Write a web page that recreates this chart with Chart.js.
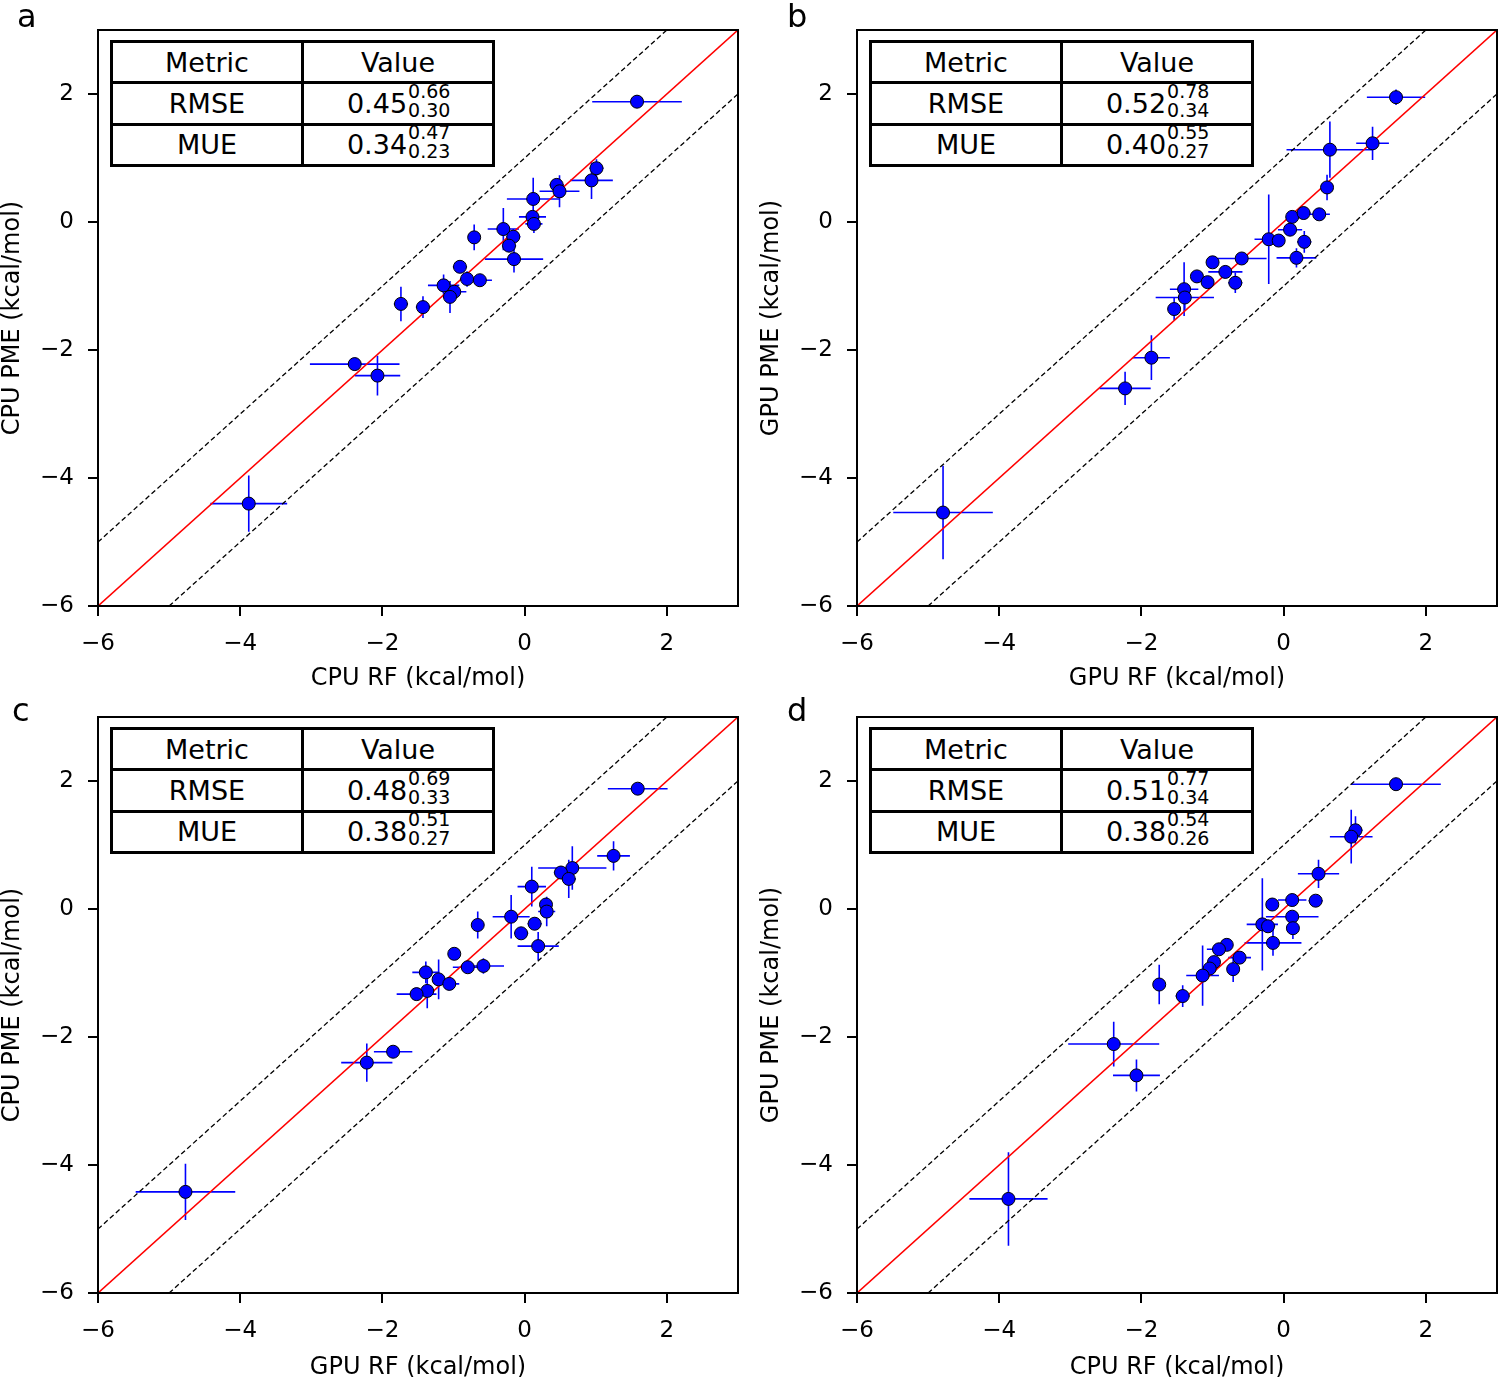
<!DOCTYPE html>
<html>
<head>
<meta charset="utf-8">
<script src="https://cdn.jsdelivr.net/npm/chart.js@4.4.1/dist/chart.umd.min.js"></script>
<style>
  body { margin: 0; background: #fff; font-family: 'DejaVu Sans', sans-serif; }
  #page { position: relative; width: 1500px; height: 1377px; overflow: hidden; }
  .panel { position: absolute; }
  .letter { position: absolute; font-size: 32px; line-height: 1; color: #000; }
  table.stats { position: absolute; border-collapse: collapse; table-layout: fixed; font-size: 27px; background: #fff; }
  table.stats td { border: 3px solid #000; text-align: center; padding: 0; line-height: 1; white-space: nowrap; }
  .sc { display: inline-block; position: relative; width: 42px; height: 0; }
  .sc span { position: absolute; left: 1px; font-size: 19px; line-height: 19px; }
  .sc .hi { bottom: 12px; }
  .sc .lo { bottom: -7px; }
</style>
</head>
<body>
<div id="page"></div>
<script>
// panel a: CPU RF vs CPU PME
const aX = [1.58, 1.01, 0.94, 0.45, 0.49, 0.12, 0.11, 0.13, -0.30, -0.16, -0.22, -0.15, -0.71, -0.91, -0.81, -0.63, -1.14, -0.99, -1.05, -1.74, -1.43, -2.39, -2.07, -3.88];
const aY = [1.88, 0.84, 0.65, 0.58, 0.48, 0.36, 0.08, -0.03, -0.11, -0.23, -0.37, -0.58, -0.24, -0.70, -0.89, -0.91, -0.99, -1.09, -1.17, -1.28, -1.33, -2.22, -2.40, -4.40];
const aXErr = [0.63, 0.10, 0.30, 0.10, 0.28, 0.37, 0.19, 0.12, 0.22, 0.10, 0.10, 0.41, 0.08, 0.10, 0.10, 0.17, 0.22, 0.17, 0.10, 0.10, 0.10, 0.63, 0.32, 0.54];
const aYErr = [0.10, 0.14, 0.29, 0.10, 0.25, 0.33, 0.10, 0.14, 0.33, 0.12, 0.10, 0.21, 0.20, 0.08, 0.12, 0.08, 0.17, 0.10, 0.25, 0.27, 0.17, 0.10, 0.31, 0.44];

// panel b: GPU RF vs GPU PME
const bX = [1.58, 1.25, 0.65, 0.61, 0.12, 0.28, 0.50, 0.09, 0.29, -0.21, -0.07, 0.18, -0.59, -1.00, -0.82, -0.68, -1.22, -1.07, -1.40, -1.39, -1.54, -1.86, -2.23, -4.79];
const bY = [1.95, 1.23, 1.13, 0.54, 0.08, 0.14, 0.12, -0.12, -0.31, -0.27, -0.29, -0.56, -0.57, -0.63, -0.78, -0.95, -0.85, -0.94, -1.05, -1.18, -1.36, -2.12, -2.60, -4.54];
const bXErr = [0.41, 0.23, 0.61, 0.08, 0.08, 0.10, 0.15, 0.17, 0.10, 0.20, 0.08, 0.28, 0.35, 0.08, 0.24, 0.10, 0.08, 0.08, 0.20, 0.41, 0.08, 0.26, 0.36, 0.70];
const bYErr = [0.12, 0.26, 0.44, 0.20, 0.08, 0.10, 0.08, 0.10, 0.17, 0.70, 0.08, 0.15, 0.08, 0.08, 0.10, 0.16, 0.08, 0.08, 0.42, 0.20, 0.18, 0.35, 0.26, 0.73];

// panel c: GPU RF vs CPU PME
const cX = [1.59, 1.25, 0.67, 0.51, 0.62, 0.10, 0.30, 0.31, -0.19, 0.14, -0.05, 0.19, -0.66, -0.99, -0.80, -0.58, -1.39, -1.21, -1.06, -1.37, -1.52, -1.85, -2.22, -4.77];
const cY = [1.88, 0.83, 0.64, 0.57, 0.47, 0.35, 0.07, -0.04, -0.12, -0.23, -0.38, -0.58, -0.25, -0.70, -0.91, -0.89, -0.99, -1.10, -1.17, -1.28, -1.33, -2.23, -2.40, -4.42];
const cXErr = [0.42, 0.23, 0.48, 0.10, 0.10, 0.20, 0.08, 0.12, 0.26, 0.10, 0.10, 0.29, 0.08, 0.08, 0.21, 0.29, 0.19, 0.08, 0.14, 0.10, 0.28, 0.27, 0.36, 0.70];
const cYErr = [0.08, 0.23, 0.34, 0.10, 0.30, 0.31, 0.10, 0.23, 0.34, 0.10, 0.08, 0.22, 0.21, 0.08, 0.08, 0.12, 0.17, 0.31, 0.10, 0.27, 0.10, 0.08, 0.30, 0.44];

// panel d: CPU RF vs GPU PME
const dX = [1.58, 1.01, 0.95, 0.49, -0.16, 0.12, 0.45, 0.12, 0.13, -0.30, -0.22, -0.15, -0.80, -0.91, -0.62, -0.71, -0.98, -1.04, -1.14, -1.75, -1.42, -2.39, -2.07, -3.87];
const dY = [1.95, 1.23, 1.13, 0.55, 0.07, 0.14, 0.13, -0.12, -0.30, -0.24, -0.27, -0.53, -0.56, -0.63, -0.76, -0.94, -0.83, -0.93, -1.04, -1.18, -1.36, -2.11, -2.60, -4.53];
const dXErr = [0.63, 0.10, 0.30, 0.29, 0.08, 0.20, 0.10, 0.37, 0.08, 0.22, 0.10, 0.40, 0.08, 0.17, 0.16, 0.08, 0.08, 0.10, 0.23, 0.08, 0.10, 0.64, 0.33, 0.55];
const dYErr = [0.08, 0.22, 0.42, 0.22, 0.10, 0.10, 0.08, 0.08, 0.17, 0.72, 0.08, 0.20, 0.08, 0.08, 0.10, 0.20, 0.08, 0.08, 0.47, 0.31, 0.17, 0.35, 0.25, 0.73];

// stats tables: [value, upper, lower]
const aRmse = [0.45, 0.66, 0.30], aMue = [0.34, 0.47, 0.23];
const bRmse = [0.52, 0.78, 0.34], bMue = [0.40, 0.55, 0.27];
const cRmse = [0.48, 0.69, 0.33], cMue = [0.38, 0.51, 0.27];
const dRmse = [0.51, 0.77, 0.34], dMue = [0.38, 0.54, 0.26];

const axisMin = -6, axisMax = 3;
const tickValues = [-6, -4, -2, 0, 2];
const diagonalOffsets = [0, 1, -1];
const FONT = "'DejaVu Sans', sans-serif";

const panels = [
  { letter: 'a', left: 0, top: 0, h: 688, letterX: 17, letterY: 0, xLabel: 'CPU RF (kcal/mol)', yLabel: 'CPU PME (kcal/mol)', x: aX, y: aY, xe: aXErr, ye: aYErr, rmse: aRmse, mue: aMue },
  { letter: 'b', left: 759, top: 0, h: 688, letterX: 28, letterY: 0, xLabel: 'GPU RF (kcal/mol)', yLabel: 'GPU PME (kcal/mol)', x: bX, y: bY, xe: bXErr, ye: bYErr, rmse: bRmse, mue: bMue },
  { letter: 'c', left: 0, top: 687, h: 690, letterX: 12, letterY: 7, xLabel: 'GPU RF (kcal/mol)', yLabel: 'CPU PME (kcal/mol)', x: cX, y: cY, xe: cXErr, ye: cYErr, rmse: cRmse, mue: cMue },
  { letter: 'd', left: 759, top: 687, h: 690, letterX: 28, letterY: 7, xLabel: 'CPU RF (kcal/mol)', yLabel: 'GPU PME (kcal/mol)', x: dX, y: dY, xe: dXErr, ye: dYErr, rmse: dRmse, mue: dMue }
];

// chart area inside every canvas
const CANVAS_W = 750;
const AREA_LEFT = 98, AREA_TOP = 30, AREA_RIGHT = 738, AREA_BOTTOM = 606;

function fmt(v) {
  return v < 0 ? '\u2212' + Math.abs(v) : String(v);
}

const errorBars = {
  id: 'errorBars',
  beforeDatasetsDraw(chart) {
    const ctx = chart.ctx;
    const xs = chart.scales.x, ys = chart.scales.y;
    const area = chart.chartArea;
    ctx.save();
    ctx.beginPath();
    ctx.rect(area.left, area.top, area.right - area.left, area.bottom - area.top);
    ctx.clip();
    ctx.strokeStyle = '#0000ff';
    ctx.lineWidth = 1.6;
    chart.data.datasets.forEach(ds => {
      if (!ds.errX) return;
      ds.data.forEach((pt, i) => {
        const px = xs.getPixelForValue(pt.x), py = ys.getPixelForValue(pt.y);
        ctx.beginPath();
        ctx.moveTo(xs.getPixelForValue(pt.x - ds.errX[i]), py);
        ctx.lineTo(xs.getPixelForValue(pt.x + ds.errX[i]), py);
        ctx.moveTo(px, ys.getPixelForValue(pt.y - ds.errY[i]));
        ctx.lineTo(px, ys.getPixelForValue(pt.y + ds.errY[i]));
        ctx.stroke();
      });
    });
    ctx.restore();
  },
  afterDraw(chart) {
    const a = chart.chartArea, ctx = chart.ctx;
    ctx.save();
    ctx.strokeStyle = '#000';
    ctx.lineWidth = 2;
    ctx.strokeRect(a.left, a.top, a.right - a.left, a.bottom - a.top);
    ctx.restore();
  }
};

function diagonal(d) {
  const x0 = Math.max(axisMin, axisMin - d), x1 = Math.min(axisMax, axisMax - d);
  return [{ x: x0, y: x0 + d }, { x: x1, y: x1 + d }];
}

function statsCell(vals) {
  return vals[0].toFixed(2) + '<span class="sc"><span class="hi">' + vals[1].toFixed(2) +
    '</span><span class="lo">' + vals[2].toFixed(2) + '</span></span>';
}

const page = document.getElementById('page');

panels.forEach(p => {
  const box = document.createElement('div');
  box.className = 'panel';
  box.style.left = p.left + 'px';
  box.style.top = p.top + 'px';
  const canvas = document.createElement('canvas');
  canvas.width = CANVAS_W;
  canvas.height = p.h;
  canvas.style.width = CANVAS_W + 'px';
  canvas.style.height = p.h + 'px';
  box.appendChild(canvas);
  page.appendChild(box);

  const lineSets = diagonalOffsets.map(d => ({
    type: 'line',
    data: diagonal(d),
    borderColor: d === 0 ? '#ff0000' : '#000',
    borderWidth: d === 0 ? 1.6 : 1.3,
    borderDash: d === 0 ? [] : [5, 3],
    pointRadius: 0,
    fill: false,
    order: 1
  }));

  const tickFont = { family: FONT, size: 23 };
  const titleFont = { family: FONT, size: 24, lineHeight: 0.8 };
  const gridOpts = { drawOnChartArea: false, drawTicks: true, tickLength: 10, color: '#000', lineWidth: 2 };

  new Chart(canvas.getContext('2d'), {
    type: 'scatter',
    data: {
      datasets: [{
        data: p.x.map((v, i) => ({ x: v, y: p.y[i] })),
        errX: p.xe,
        errY: p.ye,
        pointRadius: 6.5,
        pointBackgroundColor: '#0000ff',
        pointBorderColor: '#000',
        pointBorderWidth: 1,
        order: 0
      }, ...lineSets]
    },
    options: {
      responsive: false,
      animation: false,
      layout: { padding: { left: 0, top: AREA_TOP, right: CANVAS_W - AREA_RIGHT, bottom: 0 } },
      plugins: { legend: { display: false }, tooltip: { enabled: false } },
      scales: {
        x: {
          type: 'linear', min: axisMin, max: axisMax,
          afterBuildTicks: s => { s.ticks = tickValues.map(v => ({ value: v })); },
          afterFit: s => { s.height = p.h - AREA_BOTTOM; },
          grid: gridOpts,
          border: { display: false },
          ticks: { color: '#000', font: tickFont, padding: 14, maxRotation: 0, callback: v => fmt(v) },
          title: { display: true, text: p.xLabel, color: '#000', font: titleFont, padding: { top: 0, bottom: 0 } }
        },
        y: {
          type: 'linear', min: axisMin, max: axisMax,
          afterBuildTicks: s => { s.ticks = tickValues.map(v => ({ value: v })); },
          afterFit: s => { s.width = AREA_LEFT; },
          grid: gridOpts,
          border: { display: false },
          ticks: { color: '#000', font: tickFont, padding: 14, callback: v => fmt(v) },
          title: { display: true, text: p.yLabel, color: '#000', font: { family: FONT, size: 24, lineHeight: 1 }, padding: { top: 1, bottom: 0 } }
        }
      }
    },
    plugins: [errorBars]
  });

  const letter = document.createElement('div');
  letter.className = 'letter';
  letter.textContent = p.letter;
  letter.style.left = (p.left + p.letterX) + 'px';
  letter.style.top = (p.top + p.letterY) + 'px';
  page.appendChild(letter);

  const table = document.createElement('table');
  table.className = 'stats';
  table.style.left = (p.left + AREA_LEFT + 12) + 'px';
  table.style.top = (p.top + AREA_TOP + 10) + 'px';
  table.style.width = '385px';
  table.style.height = '127px';
  table.innerHTML =
    '<tr><td>Metric</td><td>Value</td></tr>' +
    '<tr><td>RMSE</td><td>' + statsCell(p.rmse) + '</td></tr>' +
    '<tr><td>MUE</td><td>' + statsCell(p.mue) + '</td></tr>';
  page.appendChild(table);
});
</script>
</body>
</html>
